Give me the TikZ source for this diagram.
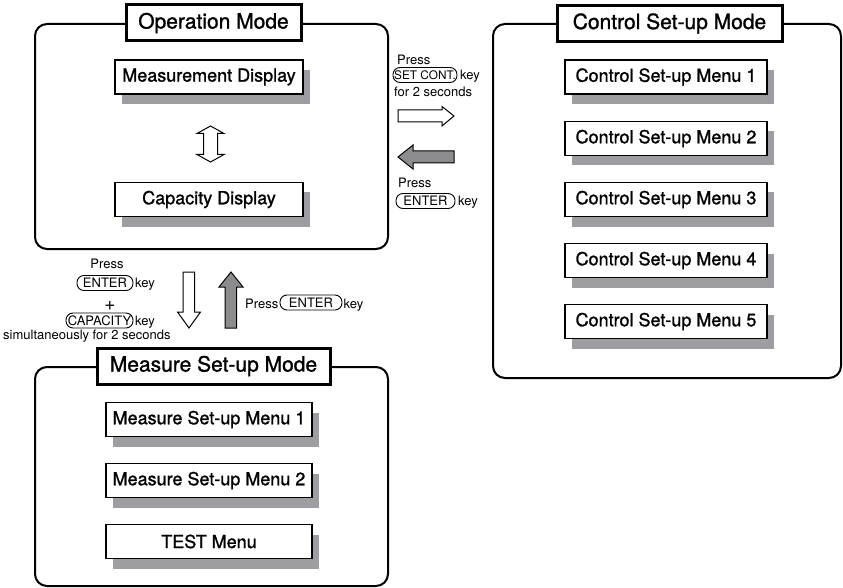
\documentclass[tikz,border=0pt]{standalone}
\usepackage{fontspec}
\setmainfont{TeX Gyre Heros}
\newfontfamily\medfont{TeX Gyre Heros}[FakeBold=1.2]
\usetikzlibrary{shadows}
\definecolor{shade}{RGB}{158,158,162}
\definecolor{arrgray}{RGB}{140,140,142}
\begin{document}
\begin{tikzpicture}[x=1pt,y=-1pt,
  frame/.style={draw, line width=2pt, rounded corners=12pt, inner sep=0pt},
  titlebox/.style={draw, line width=3pt, fill=white, inner sep=0pt, minimum height=36pt, font=\medfont\fontsize{21}{24}\selectfont},
  menu/.style={draw, line width=1.8pt, fill=white, inner sep=0pt, minimum height=34pt, font=\medfont\fontsize{18}{21}\selectfont,
    drop shadow={shadow xshift=7pt, shadow yshift=-10pt, fill=shade, opacity=1}},
  keybox/.style={draw, line width=0.9pt, rounded corners=7pt, inner xsep=1pt, inner ysep=0pt, minimum height=15pt, font=\fontsize{13}{15}\selectfont},
  small/.style={inner sep=0pt, font=\fontsize{13}{15}\selectfont},
  hollow/.style={draw, line width=1pt, fill=white, line join=miter},
  solid/.style={draw, line width=1pt, fill=arrgray, line join=miter}]
\useasboundingbox (0,0) rectangle (843,588);

% frames
\node[frame, minimum width=353pt, minimum height=225pt] (opf) at (211.5,136.5) {};
\node[frame, minimum width=348pt, minimum height=354pt] (ctf) at (667,201) {};
\node[frame, minimum width=353pt, minimum height=219pt] (msf) at (211.5,476.5) {};

% titles
\node[titlebox, minimum width=175pt] (opt) at (213.5,23) {Operation Mode};
\node[titlebox, minimum width=225pt] (ctt) at (669.5,23.5) {Control Set-up Mode};
\node[titlebox, minimum width=233pt] (mst) at (213.5,366) {Measure Set-up Mode};

% operation mode boxes
\node[menu, minimum width=188pt] (md) at (209,77) {Measurement Display};
\node[menu, minimum width=188pt] (cd) at (209,199.5) {Capacity Display};

% control set-up menus
\node[menu, minimum width=202pt] (c1) at (666,77) {Control Set-up Menu 1};
\node[menu, minimum width=202pt] (c2) at (666,138.5) {Control Set-up Menu 2};
\node[menu, minimum width=202pt] (c3) at (666,199.5) {Control Set-up Menu 3};
\node[menu, minimum width=202pt] (c4) at (666,260.5) {Control Set-up Menu 4};
\node[menu, minimum width=202pt] (c5) at (666,321.5) {Control Set-up Menu 5};

% measure set-up menus
\node[menu, minimum width=206pt] (m1) at (209,419.5) {Measure Set-up Menu 1};
\node[menu, minimum width=206pt] (m2) at (209,480.5) {Measure Set-up Menu 2};
\node[menu, minimum width=206pt] (m3) at (209,541.5) {TEST Menu};

% double arrow between displays
\draw[hollow] (210.5,126) -- (224,133.5) -- (217.5,133.5) -- (217.5,154.5) -- (224,154.5) -- (210.5,162)
  -- (197,154.5) -- (203.5,154.5) -- (203.5,133.5) -- (197,133.5) -- cycle;

% right / left arrows
\draw[hollow] (398,110) -- (442,110) -- (442,106.5) -- (454,116) -- (442,126) -- (442,122) -- (398,122) -- cycle;
\draw[solid] (454,151) -- (413,151) -- (413,145) -- (398,157) -- (413,169) -- (413,163) -- (454,163) -- cycle;

% down / up arrows
\draw[hollow] (183,272) -- (194.5,272) -- (194.5,312) -- (200.5,312) -- (189,328) -- (177.5,312) -- (183,312) -- cycle;
\draw[solid] (225,328) -- (236.5,328) -- (236.5,287) -- (243,287) -- (231,272) -- (219,287) -- (225,287) -- cycle;

% labels upper right
\node[small, anchor=base west] (p1) at (397,64.5) {Press};
\node[keybox, minimum width=64pt, font=\fontsize{11.8}{14}\selectfont] (k1) at (425,75) {SET CONT.};
\node[small, anchor=base west] (k1t) at (460,79.5) {key};
\node[small, anchor=base west] (f1) at (394,97) {for 2 seconds};
\node[small, anchor=base west] (p2) at (398,188) {Press};
\node[keybox, minimum width=59pt] (k2) at (425.5,201) {ENTER};
\node[small, anchor=base west] (k2t) at (458,206) {key};

% labels left
\node[small, anchor=base] (p3) at (107,268) {Press};
\node[keybox, minimum width=56pt] (k3) at (105,283) {ENTER};
\node[small, anchor=base west] (k3t) at (135,287.5) {key};
\node[small, font=\fontsize{19}{20}\selectfont] (plus) at (110,306) {+};
\node[keybox, minimum width=67pt] (k4) at (99.5,320.5) {CAPACITY};
\node[small, anchor=base west] (k4t) at (135,325) {key};
\node[small, anchor=base west] (sim) at (3,339) {simultaneously for 2 seconds};

% label right of up arrow
\node[small, anchor=base west] (p4) at (245,308) {Press};
\node[keybox, minimum width=62pt] (k5) at (311,302.5) {ENTER};
\node[small, anchor=base west] (k5t) at (343.5,308) {key};
\end{tikzpicture}
\end{document}
